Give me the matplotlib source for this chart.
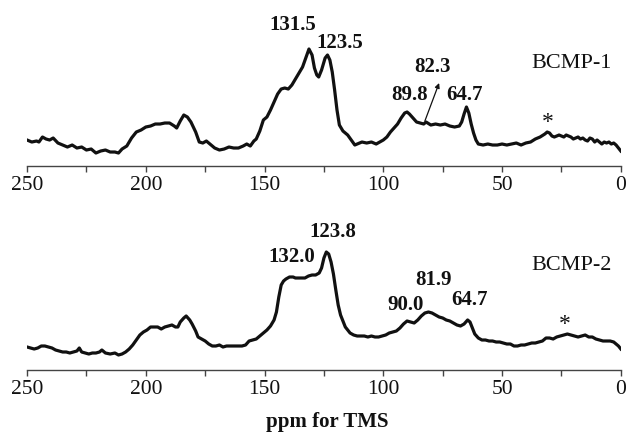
import matplotlib
matplotlib.use("Agg")
import matplotlib.pyplot as plt
import numpy as np
from matplotlib.ticker import MultipleLocator

plt.rcParams['font.family'] = ['Liberation Serif', 'DejaVu Serif']

# spectrum of BCMP-1 (chemical shift in ppm, intensity in arbitrary units)
ppm_1 = [250, 248, 246, 245, 243.5, 242, 240.5, 239, 237, 235, 233, 231, 229, 227, 225, 223, 221, 219, 217, 215,
         213, 211.5, 210, 208, 206, 204, 202, 200, 198, 196, 194, 192, 190, 188, 187, 185.5, 184, 182.5, 181, 179,
         177.5, 176, 174.5, 173, 171, 169, 167, 165, 163, 161, 159, 157.5, 156, 154.5, 153.5, 152, 150.5, 149, 147.5,
         146, 144.5, 143, 141.5, 140, 138.5, 137, 135.5, 134, 132.5, 131.3, 130, 129, 128, 127.2, 126, 124.5, 123.5,
         122.5, 121.5, 120.5, 119.5, 118.5, 117, 116, 115, 113.5, 112, 111, 109, 107, 105, 103, 101.5, 100, 98.5, 97,
         95.5, 94, 92.5, 91, 90, 89, 87.5, 86, 84.5, 83, 82, 80, 78, 76, 74, 72, 70, 68, 67, 66, 65, 64, 63, 62, 61,
         60, 58, 56, 54, 52, 50, 48, 46, 44, 42, 40, 38, 36, 34, 32, 31, 30, 29, 28, 27, 26, 25, 24, 23, 22, 21, 20,
         19, 18, 17, 16, 15, 14, 13, 12, 11, 10, 9, 8, 7, 6, 5, 4, 3, 2, 1, 0]
int_1 = [26, 24, 25, 24, 29, 27, 26, 28, 23, 21, 19, 21, 18, 19, 16, 17, 13, 15, 16, 14,
         14, 13, 17, 20, 28, 34, 36, 39, 40, 42, 42, 43, 43, 40, 38, 45, 51, 49, 44, 34,
         24, 23, 25, 22, 18, 16, 17, 19, 18, 18, 20, 22, 20, 25, 27, 35, 46, 49, 56,
         64, 72, 77, 78, 77, 81, 87, 93, 99, 109, 117, 111, 98, 91, 89, 96, 108, 111,
         106, 94, 76, 56, 41, 35, 33, 31, 26, 21, 22, 24, 23, 24, 22, 24, 26, 29, 34,
         38, 42, 48, 53, 54, 52, 48, 44, 43, 42, 44, 41, 42, 41, 42, 40, 39, 40, 44, 52, 59, 53, 42, 33, 26,
         22, 21, 22, 21, 21, 22, 21, 22, 23, 21, 23, 24, 27, 29, 32, 34, 33, 30, 29, 30, 31, 30, 29, 31, 30, 29, 27,
         28, 29, 27, 28, 26, 25, 28, 27, 24, 26, 24, 22, 24, 23, 24, 22, 23, 21, 18, 15]

# spectrum of BCMP-2
ppm_2 = [250, 248.5, 247, 245.5, 244, 242.5, 241, 239.5, 238, 236.5, 235, 233.5, 232, 230.5, 229, 228, 227, 225.5,
         224, 222.5, 221, 219.5, 218.5, 217, 215, 213, 211.5, 210, 208.5, 207, 205.5, 204, 202.5, 201, 199.5, 198,
         196.5, 195, 193.5, 192, 190.5, 189, 187.5, 186.5, 185.5, 184, 183, 181.5, 180.5, 179, 178, 176.5, 175, 173.5,
         172, 170.5, 169, 167.5, 166, 164.5, 163, 161, 159.5, 158, 156.5, 155, 153.5, 152, 150.5, 149, 147.5, 146,
         145, 144, 143, 142, 141, 139.5, 138, 137, 136, 134.5, 133, 131.5, 130, 128.5, 127, 126, 125, 124, 123, 122,
         121, 120, 119, 118, 117, 116, 115, 114, 112.5, 111, 109.5, 108, 106.5, 105, 103.5, 102, 100.5, 99, 97.5, 96,
         94.5, 93, 91.5, 90, 88.5, 87, 85.5, 84, 82.5, 81, 79.5, 78, 76.5, 75, 73.5, 72, 70.5, 69, 67.5, 66, 64.5,
         63.5, 62.5, 61.5, 60, 58.5, 57, 55.5, 54, 52.5, 51, 49.5, 48, 46.5, 45, 43.5, 42, 40.5, 39, 37.5, 36, 34.5,
         33, 31.5, 30, 28.5, 27, 25.5, 24, 22.5, 21, 19.5, 18, 16.5, 15, 13.5, 12, 10.5, 9, 7.5, 6, 4.5, 3, 2, 1, 0]
int_2 = [23, 22, 21, 22, 24, 24, 23, 22, 20, 19, 18, 18, 17, 18, 19, 22, 18, 17,
         16, 17, 17, 18, 20, 17, 16, 17, 15, 16, 18, 21, 25, 30, 35, 38, 40, 43,
         43, 43, 41, 43, 44, 45, 43, 43, 48, 52, 54, 50, 46, 39, 33, 31, 29, 26,
         24, 24, 25, 23, 24, 24, 24, 24, 24, 25, 29, 30, 31, 34, 37, 40, 44, 50,
         58, 73, 85, 89, 91, 93, 93, 92, 92, 92, 92, 94, 95, 95, 97, 102, 112, 118, 116, 108,
         96, 80, 65, 55, 49, 43, 40, 37, 35, 34, 34, 34, 33, 34, 33, 33, 34, 35, 37, 38,
         39, 42, 46, 49, 48, 47, 50, 54, 57, 58, 57, 55, 53, 52, 50, 49, 47, 45, 44, 46, 50,
         48, 42, 36, 32, 30, 30, 29, 29, 28, 28, 27, 26, 26, 24, 24, 25, 25, 26, 27, 27, 28,
         29, 32, 32, 31, 33, 34, 35, 36, 35, 34, 33, 34, 35, 33, 33, 31, 30, 29, 29, 29, 28, 26, 24, 21]

ticks = [250, 200, 150, 100, 50, 0]

fig = plt.figure(figsize=(6.29, 4.33), dpi=100)
ax1 = fig.add_axes([0.043, 0.6166, 0.944, 0.3695])
ax2 = fig.add_axes([0.043, 0.1455, 0.944, 0.3695])

for ax, x, y in [(ax1, ppm_1, int_1), (ax2, ppm_2, int_2)]:
    ax.plot(x, y, color='#111111', lw=2.3, solid_joinstyle='round')
    ax.set_xlim(250, 0)
    ax.set_ylim(0, 160)
    for s in ['top', 'right', 'left']:
        ax.spines[s].set_visible(False)
    ax.spines['bottom'].set_color('#444444')
    ax.spines['bottom'].set_linewidth(1.0)
    ax.set_yticks([])
    ax.set_xticks(ticks)
    ax.xaxis.set_minor_locator(MultipleLocator(25))
    ax.tick_params(axis='x', which='both', direction='out', length=4, width=1.0,
                   color='#444444', labelsize=15.5, pad=3, labelcolor='#111111')
    ax.patch.set_alpha(0)

bold = dict(fontsize=15, fontweight='bold', ha='center', va='center', color='#111111')

ax1.text(138, 141, '131.5', **bold)
ax1.text(118.5, 123, '123.5', **bold)
ax1.text(79.5, 99, '82.3', **bold)
ax1.text(88.8, 71, '89.8', **bold)
ax1.text(65.7, 71, '64.7', **bold)
ax1.text(20.9, 103, 'BCMP-1', fontsize=16, ha='center', va='center', color='#111111')
ax1.text(30.7, 44, '*', fontsize=17, ha='center', va='center', color='#111111')
ax1.annotate('', xy=(76.5, 83), xytext=(82.5, 45),
             arrowprops=dict(arrowstyle='-|>', color='#111111', lw=0.9,
                             mutation_scale=7, shrinkA=0, shrinkB=0))

ax2.text(138.5, 113, '132.0', **bold)
ax2.text(121.4, 138, '123.8', **bold)
ax2.text(78.7, 90, '81.9', **bold)
ax2.text(90.7, 65, '90.0', **bold)
ax2.text(63.7, 70, '64.7', **bold)
ax2.text(20.7, 105, 'BCMP-2', fontsize=16, ha='center', va='center', color='#111111')
ax2.text(23.6, 46, '*', fontsize=17, ha='center', va='center', color='#111111')

fig.text(0.5207, 0.025, 'ppm for TMS', fontsize=15, fontweight='bold',
         ha='center', va='center', color='#111111')

fig.savefig('out.png', dpi=100)
